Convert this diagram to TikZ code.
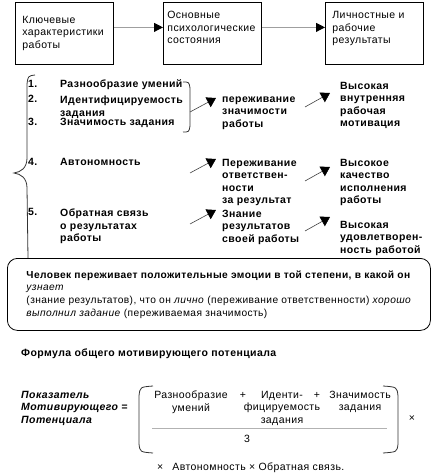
\documentclass[tikz,border=0pt]{standalone}
\usepackage{fontspec}
\setmainfont{Liberation Sans}[LetterSpace=4]
\usetikzlibrary{arrows.meta}
\begin{document}
\begin{tikzpicture}[x=1pt,y=-1pt,
	every node/.style={font=\fontsize{10.5}{12.6}\selectfont, inner sep=0pt},
	card/.style={draw, line width=0.8pt, minimum width=98pt, minimum height=62pt, anchor=north west},
	txt/.style={anchor=north west, align=left},
	one/.style={anchor=base west},
	heavy/.style={font=\fontsize{10.5}{12.6}\selectfont\bfseries},
	flow/.style={draw=gray!75, line width=1pt, -{Triangle[length=9pt, width=9pt, black]}},
	jump/.style={draw=gray!50!black, line width=0.6pt, -{Triangle[length=9pt, width=11pt, black]}},
	curly/.style={draw=gray!40!black, line width=0.8pt}]
	\useasboundingbox (0,0) rectangle (437,476);
	% top row
	\node[card, text width=84pt, align=left] (keys) at (15,2) {Ключевые\\характеристики\\работы};
	\node[card] (states) at (163,2) {\parbox[c][44pt][t]{90pt}{Основные\\психологические\\состояния}};
	\node[card] (results) at (325,2) {\parbox[c][44pt][t]{84pt}{Личностные и\\рабочие\\результаты}};
	\draw[flow] ([yshift=6pt]keys.east) -- ([yshift=6pt]states.west);
	\draw[flow] ([yshift=6pt]states.east) -- ([yshift=6pt]results.west);
	% characteristics
	\node[one, heavy] (n1) at (28,88) {1.};
	\node[one, heavy] (n2) at (28,102.6) {2.};
	\node[one, heavy] (n3) at (28,125.6) {3.};
	\node[one, heavy] (n4) at (28,165.6) {4.};
	\node[one, heavy] (n5) at (28,215.6) {5.};
	\node[one, heavy] (t1) at (60,88) {Разнообразие умений};
	\node[txt, heavy] (t2) at (60,95.7) {Идентифицируемость\\задания};
	\node[one, heavy] (t3) at (60,125.6) {Значимость задания};
	\node[one, heavy] (t4) at (60,165.6) {Автономность};
	\node[txt, heavy] (t5) at (60,208.7) {Обратная связь\\о результатах\\работы};
	% states
	\node[txt, heavy] (m1) at (222,96.3) {переживание\\значимости\\работы};
	\node[txt, heavy] (m2) at (222,158.7) {Переживание\\ответствен-\\ности\\за результат};
	\node[txt, heavy] (m3) at (222,209.7) {Знание\\результатов\\своей работы};
	% outcomes
	\node[txt, heavy] (r1) at (340,81.7) {Высокая\\внутренняя\\рабочая\\мотивация};
	\node[txt, heavy] (r2) at (340,158.7) {Высокое\\качество\\исполнения\\работы};
	\node[txt, heavy] (r3) at (340,220.7) {Высокая\\удовлетворен-\\ность работой};
	% braces
	\draw[curly] (35,75) .. controls (28,76) .. (27,84) -- (27,158)
		.. controls (27,168) and (21,172) .. (14,173)
		.. controls (21,174) and (27,178) .. (27,188) -- (28,258);
	\draw[curly] (183,82) .. controls (189,82) .. (190,88) -- (190,126)
		.. controls (189,132) .. (183,132);
	% arrows
	\coordinate (s1) at (190,112); \coordinate (e1) at (216,98);
	\coordinate (s2) at (305,107); \coordinate (e2) at (330,93);
	\coordinate (s3) at (190,173); \coordinate (e3) at (216,159);
	\coordinate (s4) at (305,181); \coordinate (e4) at (330,167);
	\coordinate (s5) at (190,224); \coordinate (e5) at (216,210);
	\coordinate (s6) at (305,231); \coordinate (e6) at (330,217);
	\foreach \k in {1,...,6}
		\draw[jump] (s\k) -- (e\k);
	% summary
	\node[draw, line width=0.8pt, rounded corners=10pt, anchor=north west, minimum width=423pt, minimum height=72pt,
		align=left, font=\fontsize{10.2}{12.7}\selectfont] (note) at (7,258)
		{\textbf{Человек переживает положительные эмоции в той степени, в какой он}\\
		\textit{узнает}\\
		(знание результатов), что он \textit{лично} (переживание ответственности) \textit{хорошо}\\
		\textit{выполнил задание} (переживаемая значимость)};
	% formula
	\node[one, heavy] (title) at (21,356) {Формула общего мотивирующего потенциала};
	\node[txt, font=\fontsize{10.5}{12.6}\selectfont\bfseries\itshape] (label) at (21,390.7) {Показатель\\Мотивирующего =\\Потенциала};
	\node[anchor=north, align=center] (var) at (191,390.7) {Разнообразие\\умений};
	\node[anchor=north, align=center] (ident) at (282,390.7) {Иденти-\\фицируемость\\задания};
	\node[anchor=north, align=center] (sig) at (360,390.7) {Значимость\\задания};
	\node[anchor=base] (plus1) at (243,398) {+};
	\node[anchor=base] (plus2) at (317,398) {+};
	\node[anchor=base] (three) at (247,442) {3};
	\node[anchor=base] (times) at (412,421) {×};
	\node[one] (rest) at (157,470) {×\hspace{9pt}Автономность × Обратная связь.};
	\draw[draw=gray!60, line width=1pt] (152,428) -- (387,428);
	\draw[curly] (153,386) .. controls (140,387) .. (139,396) -- (139,444) .. controls (140,452) .. (153,453);
	\draw[curly] (383,386) .. controls (397,387) .. (398,396) -- (398,444) .. controls (397,452) .. (383,453);
\end{tikzpicture}
\end{document}
